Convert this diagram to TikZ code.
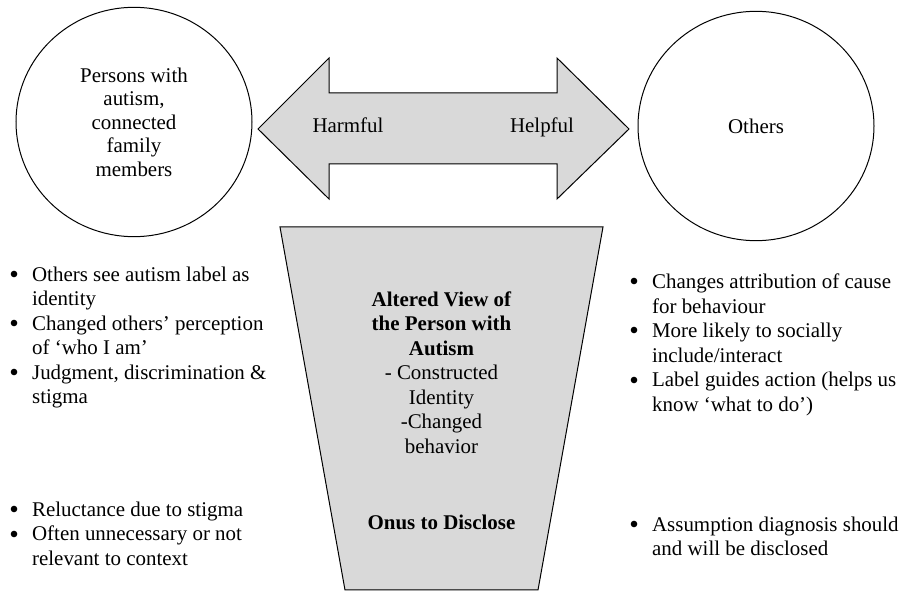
\documentclass[tikz,border=0pt]{standalone}
\usepackage{fontspec}
\setmainfont{Liberation Serif}
\usetikzlibrary{shapes.geometric}
\definecolor{panelgray}{RGB}{217,217,217}
\newcommand{\bul}{\raisebox{-0.11em}{\scalebox{1.3}{\textbullet}}}
\tikzset{
  txt/.style={inner sep=0pt, font=\fontsize{15.7}{18.4}\selectfont, align=center},
  word/.style={txt, text height=1.5ex, text depth=0.25ex},
  bulletlist/.style={inner sep=0pt, anchor=west, font=\fontsize{15.7}{18.4}\selectfont},
  group/.style={draw, ellipse, line width=0.75pt, minimum width=177pt, minimum height=172pt, inner sep=0pt, font=\fontsize{15.7}{17.6}\selectfont, align=center}
}
\begin{document}
\begin{tikzpicture}[x=0.75pt,y=0.75pt,yscale=-1,xscale=1]
\useasboundingbox (0,0) rectangle (904,591);

%Shape: Ellipse [id:persons]
\node [group] (persons) at (134,122) {Persons with\\autism,\\connected\\family\\members};
%Shape: Ellipse [id:others]
\node [group] (others) at (756,126) {Others};

%Shape: Double Arrow [id:scale]
\draw  [line width=0.75pt][fill=panelgray] (258,129) -- (329,58) -- (329,93) -- (557,93) -- (557,58) -- (629,129) -- (557,199) -- (557,164) -- (329,164) -- (329,199) -- cycle ;
%Shape: Trapezoid [id:funnel]
\draw  [line width=0.75pt][fill=panelgray] (280,227) -- (603,227) -- (538,590) -- (345,590) -- cycle ;

% Text Node
\node [word] (harmful) at (348,129) {Harmful};
% Text Node
\node [word] (helpful) at (542,129) {Helpful};
% Text Node
\node [txt] (altered) at (441.5,372.5) {\textbf{Altered View of}\\\textbf{the Person with}\\\textbf{Autism}\\- Constructed\\Identity\\-Changed\\behavior};
% Text Node
\node [txt] (onus) at (441.5,522) {\textbf{Onus to Disclose}};

% Text Node
\node [bulletlist] (harmview) at (9,337.5) {\begin{tabular}{@{}l@{\hspace{10pt}}l@{}}
\bul & Others see autism label as\\
 & identity\\
\bul & Changed others' perception\\
 & of `who I am'\\
\bul & Judgment, discrimination \&\\
 & stigma
\end{tabular}};
% Text Node
\node [bulletlist] (harmdisclose) at (9,536) {\begin{tabular}{@{}l@{\hspace{10pt}}l@{}}
\bul & Reluctance due to stigma\\
\bul & Often unnecessary or not\\
 & relevant to context
\end{tabular}};
% Text Node
\node [bulletlist] (helpview) at (629,345) {\begin{tabular}{@{}l@{\hspace{10pt}}l@{}}
\bul & Changes attribution of cause\\
 & for behaviour\\
\bul & More likely to socially\\
 & include/interact\\
\bul & Label guides action (helps us\\
 & know `what to do')
\end{tabular}};
% Text Node
\node [bulletlist] (helpdisclose) at (629,538.5) {\begin{tabular}{@{}l@{\hspace{10pt}}l@{}}
\bul & Assumption diagnosis should\\
 & and will be disclosed
\end{tabular}};

\end{tikzpicture}
\end{document}
